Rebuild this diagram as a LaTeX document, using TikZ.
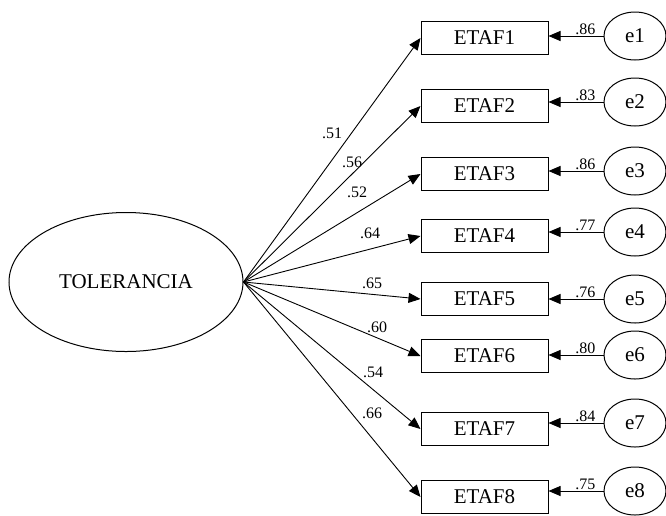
\documentclass[tikz,border=0pt]{standalone}
\usepackage{fontspec}
\setmainfont{Liberation Serif}
\usetikzlibrary{arrows.meta,shapes.geometric}
\begin{document}
\begin{tikzpicture}[x=1pt,y=-1pt,
 every node/.style={font=\fontsize{21}{25}\selectfont},
 obs/.style={draw, line width=1pt, minimum width=127pt, minimum height=33pt, inner sep=0pt},
 lat/.style={draw, ellipse, line width=1pt, inner sep=0pt},
 err/.style={draw, ellipse, line width=1pt, minimum width=62pt, minimum height=48pt, inner sep=0pt},
 arr/.style={-{Triangle[length=12pt,width=10pt]}, line width=0.9pt},
 lbl/.style={font=\fontsize{16}{19}\selectfont, inner sep=1pt}]
\useasboundingbox (0,0) rectangle (666,515);
\node[lat, minimum width=234pt, minimum height=139pt] (T) at (126,282) {TOLERANCIA};
\foreach \i/\y/\ey/\w/\lx/\ly in {1/38/36/.86/332/133, 2/106/102/.83/352/162, 3/174/171/.86/357/192, 4/236/232/.77/370/233, 5/299/299/.76/372/283, 6/356/355/.80/377/327, 7/429/423/.84/373/372, 8/497/491/.75/372/413}{
  \node[obs] (E\i) at (484.5,\y) {ETAF\i};
  \node[err] (e\i) at (635,\ey) {e\i};
  \draw[arr] (e\i.west) -- node[lbl, pos=0.33, above, name=w\i] {\w} (e\i.west -| E\i.east);
}
\foreach \i/\l/\lx/\ly in {1/.51/332/133, 2/.56/352/162, 3/.52/357/192, 4/.64/370/233, 5/.65/372/283, 6/.60/377/327, 7/.54/373/372, 8/.66/372/413}{
  \draw[arr] (T.east) -- (E\i.west);
  \node[lbl] (l\i) at (\lx,\ly) {\l};
}
\end{tikzpicture}
\end{document}
